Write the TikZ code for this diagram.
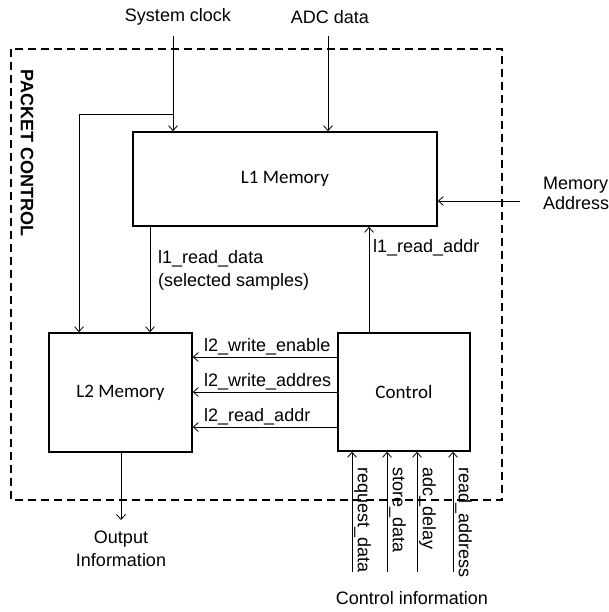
\documentclass[tikz,border=0pt]{standalone}
\usepackage{fontspec}
\setmainfont{Liberation Sans}
\newfontfamily\calfont{Carlito}
\usetikzlibrary{arrows.meta}
\tikzset{
  block/.style={
    draw,
    line width=1.6pt,
    fill=white,
    inner sep=0pt,
    font=\calfont\fontsize{19}{22}\selectfont
  },
  lbl/.style={
    inner sep=0pt,
    font=\fontsize{18}{22.5}\selectfont
  },
  vlbl/.style={
    lbl,
    rotate=-90,
    anchor=south west
  },
  frame/.style={
    draw,
    line width=1.5pt,
    dash pattern=on 8pt off 5pt
  },
  every edge/.style={
    draw,
    line width=0.8pt,
    -{Straight Barb[length=5pt,width=9pt]}
  }
}

\begin{document}
\begin{tikzpicture}[x=1pt, y=-1pt]
  \useasboundingbox (0,0) rectangle (609,612);
  \draw[frame] (11,49) rectangle (502,500);
  \node[lbl, font=\bfseries\fontsize{18}{22}\selectfont, rotate=-90] (pc) at (27,153) {PACKET CONTROL};

  \node[block, minimum width=304pt, minimum height=94pt] (l1mem) at (285,179) {L1 Memory};
  \node[block, minimum width=143pt, minimum height=119pt] (l2mem) at (120.5,392.5) {L2 Memory};
  \node[block, minimum width=132pt, minimum height=118pt] (ctrl) at (404,392) {Control};

  % inputs on top
  \node[lbl] (clk) at (178,17) {System clock};
  \node[lbl] (adc) at (330,17) {ADC data};
  \coordinate (clkin) at (173,36);
  \coordinate (adcin) at (328,36);
  \coordinate (clktap) at (173,114);
  \coordinate (clkleft) at (79,114);
  \path (clkin) edge (clkin |- l1mem.north)
        (adcin) edge (adcin |- l1mem.north)
        (clktap) edge[-] (clkleft)
        (clkleft) edge (clkleft |- l2mem.north);

  \node[lbl, align=left, anchor=west] (maddr) at (543,193) {Memory\\[-2.5pt]Address};
  \coordinate (maddrin) at (520,201);
  \path (maddrin) edge (maddrin -| l1mem.east);

  % L1 <-> L2 / Control
  \coordinate (rdcol) at (150,0);
  \coordinate (racol) at (369,0);
  \path (rdcol |- l1mem.south) edge (rdcol |- l2mem.north)
        (racol |- ctrl.north) edge (racol |- l1mem.south);
  \node[lbl, align=left, anchor=west] (rdlbl) at (158,270.5) {l1\_read\_data\\(selected samples)};
  \node[lbl, anchor=west] (ralbl) at (373,248) {l1\_read\_addr};

  % Control -> L2
  \coordinate (we) at (338,357);
  \coordinate (wa) at (338,392);
  \coordinate (ra) at (338,427);
  \path (we) edge (we -| l2mem.east)
        (wa) edge (wa -| l2mem.east)
        (ra) edge (ra -| l2mem.east);
  \node[lbl, anchor=base west] (welbl) at (204,351) {l2\_write\_enable};
  \node[lbl, anchor=base west] (walbl) at (204,386) {l2\_write\_addres};
  \node[lbl, anchor=base west] (ralbl2) at (204,421) {l2\_read\_addr};

  % output
  \coordinate (outend) at (121,520);
  \path (outend |- l2mem.south) edge (outend);
  \node[lbl, align=center] (outlbl) at (121,549) {Output\\Information};

  % control inputs
  \foreach \x/\sig in {352/request\_data, 387/store\_data, 417/adc\_delay, 453/read\_address} {
    \coordinate (cin-\x) at (\x,572);
    \path (cin-\x) edge (cin-\x |- ctrl.south);
    \node[vlbl] (sig-\x) at (\x+2,467) {\sig};
  }
  \node[lbl] (cinfo) at (412,598) {Control information};
\end{tikzpicture}
\end{document}
